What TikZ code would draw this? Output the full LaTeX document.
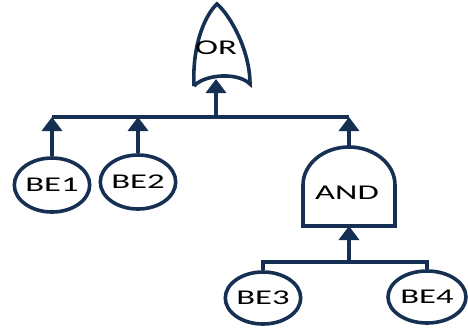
\documentclass[tikz,border=0pt]{standalone}
\usepackage{fontspec}
\setmainfont{Carlito}
\usetikzlibrary{arrows.meta,shapes.geometric}
\definecolor{ftblue}{RGB}{22,48,84}
\newcommand{\wide}[1]{\scalebox{1.65}[1]{#1}}

\begin{document}
\begin{tikzpicture}[x=0.5pt,y=-0.5pt,line width=1.8pt,
  be/.style={draw=ftblue,ellipse,inner sep=0pt,minimum width=33pt,minimum height=27pt,
    font=\fontsize{10.5}{10.5}\selectfont,text=black},
  lbl/.style={font=\fontsize{10.5}{10.5}\selectfont,text=black},
  arr/.style={draw=ftblue,-{Triangle[width=10pt,length=7pt]}}]
\useasboundingbox (0,0) rectangle (468,329);

% basic events
\node[be] (be1) at (52,185) {\wide{BE1}};
\node[be] (be2) at (138,182) {\wide{BE2}};
\node[be,minimum width=36pt,minimum height=26pt] (be3) at (263,298) {\wide{BE3}};
\node[be,minimum width=39pt,minimum height=26pt] (be4) at (427,297) {\wide{BE4}};

% OR gate
\draw[ftblue] (194,86) .. controls (192,45) and (205,15) .. (217,4)
  .. controls (230,15) and (250,50) .. (250,84)
  .. controls (238,72) and (205,74) .. (194,86);
\node[lbl] (or) at (216,48) {\wide{OR}};
\coordinate (orIn) at (216,79);

% AND gate
\draw[ftblue] (303,226) -- (303,185) arc[start angle=180,end angle=360,x radius=46,y radius=38]
  -- (395,226) -- cycle;
\node[lbl] (and) at (347,193) {\wide{AND}};
\coordinate (andTop) at (349,147);
\coordinate (andBot) at (349,226);

% top bus
\coordinate (busL) at (52,117);
\coordinate (busR) at (349,117);
\coordinate (busOR) at (216,117);
\draw[ftblue] (busL) -- (busR);
\draw[arr] (busOR) -- (orIn);
\draw[arr] (be1.north) -- (be1.north |- busL);
\draw[arr] (be2.north) -- (be2.north |- busL);
\draw[arr] (andTop) -- (busR);

% lower bus
\coordinate (lowMid) at (349,262);
\draw[ftblue] (be3.north) |- (lowMid) -| (be4.north);
\draw[arr] (lowMid) -- (andBot);
\end{tikzpicture}
\end{document}
